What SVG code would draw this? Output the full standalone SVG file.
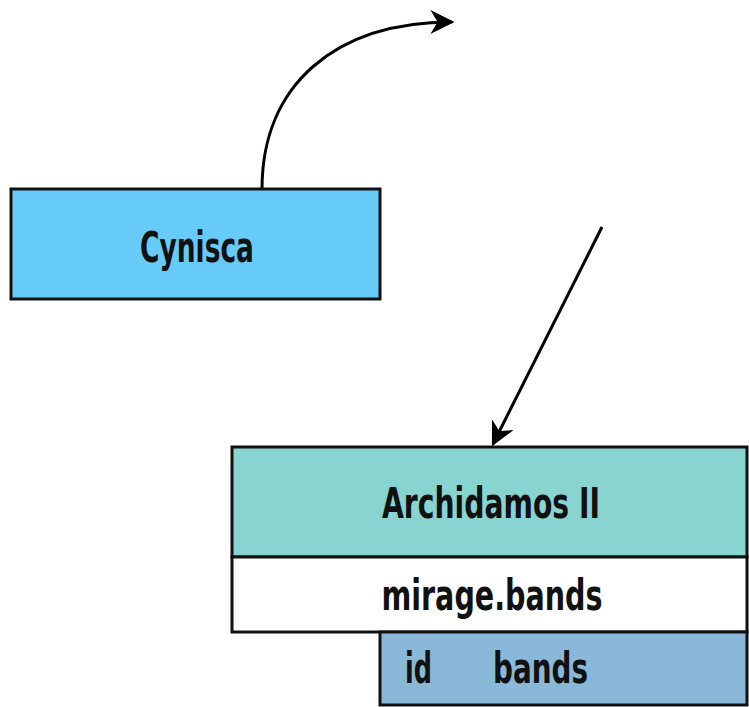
<svg xmlns="http://www.w3.org/2000/svg" width="749" height="707" viewBox="0 0 749 707">
<style>
.box{stroke:#111;stroke-width:3}
.t{font-family:"DejaVu Sans Condensed","DejaVu Sans",sans-serif;font-weight:bold;fill:#111;font-size:42px}
.c{fill:none;stroke:#000;stroke-width:3}
</style>
<defs>
<marker id="ah2" viewBox="0 0 10 10" refX="9" refY="5" markerWidth="24" markerHeight="24" markerUnits="userSpaceOnUse" orient="auto">
<path d="M0,0 L10,5 L0,10 L3,5 z" fill="#000"/>
</marker>
</defs>
<rect width="749" height="707" fill="#fff"/>
<g id="connectors">
<path class="c" d="M262,189 C262,85 335,22 452,22" marker-end="url(#ah2)"/>
<path class="c" d="M602,227 L493,444" marker-end="url(#ah2)"/>
</g>
<g id="cynisca">
<rect class="box" x="11" y="189" width="369" height="110" fill="#66CBF9"/>
<text class="t" x="197" y="262" text-anchor="middle" textLength="114" lengthAdjust="spacingAndGlyphs">Cynisca</text>
</g>
<g id="archidamos">
<rect class="box" x="232" y="447" width="515" height="110" fill="#87D4D0"/>
<rect class="box" x="232" y="557" width="515" height="75" fill="#fff"/>
<text class="t" x="491" y="518" text-anchor="middle" textLength="218" lengthAdjust="spacingAndGlyphs">Archidamos II</text>
<text class="t" x="492" y="610" text-anchor="middle" textLength="221" lengthAdjust="spacingAndGlyphs">mirage.bands</text>
</g>
<g id="bands">
<rect class="box" x="380" y="632" width="367" height="73" fill="#8AB8D8"/>
<text class="t" x="405" y="683" textLength="27" lengthAdjust="spacingAndGlyphs">id</text>
<text class="t" x="493" y="683" textLength="95" lengthAdjust="spacingAndGlyphs">bands</text>
</g>
</svg>
